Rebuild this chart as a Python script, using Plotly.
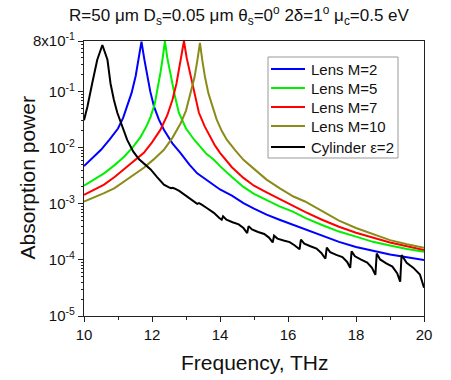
import plotly.graph_objects as go

# ---------------- data ----------------
freq_m2 = [10.0, 10.25, 10.5, 10.75, 11.0, 11.15, 11.27, 11.4, 11.52, 11.6, 11.69, 11.78, 11.86, 11.95,
           12.06, 12.2, 12.35, 12.6, 12.84, 13.1, 13.33, 13.6, 13.82, 14.0, 14.35, 14.69, 15.0, 15.37,
           15.75, 16.16, 16.5, 17.0, 17.5, 18.0, 18.5, 19.0, 19.5, 20.0]
abs_m2 = [0.0047, 0.0066, 0.0092, 0.014, 0.022, 0.034, 0.054, 0.095, 0.19, 0.35, 0.78, 0.36, 0.19, 0.10,
          0.054, 0.032, 0.021, 0.012, 0.0080, 0.0050, 0.0035, 0.0027, 0.0022, 0.0018, 0.0014, 0.00103,
          0.00082, 0.00064, 0.00052, 0.00042, 0.00035, 0.000265, 0.00021, 0.00017, 0.000145, 0.000125,
          0.000112, 0.000100]

freq_m5 = [10.0, 10.3, 10.59, 10.9, 11.18, 11.45, 11.67, 11.85, 11.96, 12.08, 12.16, 12.25, 12.32, 12.38,
           12.45, 12.57, 12.68, 12.79, 13.0, 13.24, 13.41, 13.6, 13.82, 14.0, 14.35, 14.69, 15.0, 15.37,
           15.75, 16.16, 16.5, 17.0, 17.5, 18.0, 18.5, 19.0, 19.5, 20.0]
abs_m5 = [0.0021, 0.0027, 0.0035, 0.0049, 0.0069, 0.0105, 0.0158, 0.025, 0.036, 0.060, 0.107, 0.22, 0.42,
          0.80, 0.40, 0.16, 0.080, 0.042, 0.022, 0.0139, 0.0105, 0.0078, 0.0061, 0.0047, 0.0030, 0.0020,
          0.00150, 0.00115, 0.00090, 0.00072, 0.00056, 0.00042, 0.00032, 0.00026, 0.00021, 0.00018,
          0.000156, 0.00014]

freq_m7 = [10.0, 10.3, 10.59, 10.9, 11.18, 11.47, 11.76, 12.0, 12.25, 12.45, 12.6, 12.72, 12.79, 12.87,
           12.94, 13.02, 13.14, 13.25, 13.38, 13.55, 13.71, 13.85, 14.0, 14.35, 14.69, 15.0, 15.37, 15.75,
           16.16, 16.5, 17.0, 17.5, 18.0, 18.5, 19.0, 19.5, 20.0]
abs_m7 = [0.00145, 0.0018, 0.0022, 0.0030, 0.0041, 0.0057, 0.0081, 0.0125, 0.021, 0.038, 0.071, 0.14, 0.24,
          0.45, 0.80, 0.40, 0.19, 0.085, 0.042, 0.024, 0.0158, 0.011, 0.0081, 0.0045, 0.0029, 0.0021,
          0.0016, 0.00122, 0.00090, 0.00072, 0.00052, 0.00039, 0.000305, 0.00025, 0.000205, 0.000175,
          0.00015]

freq_m10 = [10.0, 10.3, 10.59, 10.9, 11.18, 11.47, 11.76, 12.05, 12.35, 12.6, 12.84, 13.0, 13.14, 13.25,
            13.34, 13.41, 13.48, 13.56, 13.66, 13.78, 13.9, 14.05, 14.2, 14.45, 14.69, 15.0, 15.37, 15.75,
            16.16, 16.5, 17.0, 17.5, 18.0, 18.5, 19.0, 19.5, 20.0]
abs_m10 = [0.0011, 0.0013, 0.00155, 0.0019, 0.0025, 0.0033, 0.0044, 0.0062, 0.0092, 0.015, 0.027, 0.046,
           0.093, 0.18, 0.38, 0.74, 0.36, 0.18, 0.093, 0.052, 0.032, 0.020, 0.0139, 0.0090, 0.0061,
           0.0042, 0.0027, 0.0019, 0.00135, 0.0011, 0.00074, 0.00050, 0.00037, 0.00029, 0.000225,
           0.00019, 0.000165]

freq_cyl = [10.0, 10.1, 10.24, 10.39, 10.54, 10.69, 10.78, 10.88, 10.98, 11.1, 11.27, 11.45, 11.62, 11.8,
            11.96, 12.15, 12.35, 12.5, 12.56, 12.6, 12.66, 12.8, 12.95, 13.14, 13.28, 13.33, 13.38, 13.45,
            13.6, 13.82, 13.98, 14.05,
            14.09, 14.19, 14.37, 14.55, 14.69, 14.80,
            14.84, 14.94, 15.12, 15.30, 15.44, 15.55,
            15.59, 15.69, 15.87, 16.05, 16.19, 16.34,
            16.38, 16.48, 16.66, 16.84, 16.98, 17.10,
            17.14, 17.24, 17.42, 17.60, 17.74, 17.83,
            17.87, 17.97, 18.15, 18.33, 18.47, 18.57,
            18.61, 18.71, 18.89, 19.07, 19.21, 19.30,
            19.34, 19.49, 19.69, 19.88, 20.0]
abs_cyl = [0.031, 0.054, 0.14, 0.37, 0.68, 0.37, 0.14, 0.071, 0.042, 0.026, 0.0138, 0.0085, 0.0062, 0.0050,
           0.0041, 0.0030, 0.0022, 0.00197, 0.0019, 0.00193, 0.00188, 0.0017, 0.00145, 0.00118, 0.00102,
           0.00100, 0.00103, 0.00098, 0.00085, 0.00069, 0.00056, 0.00052,
           0.00060, 0.00052, 0.00047, 0.00043, 0.00037, 0.00030,
           0.00040, 0.00035, 0.000315, 0.00029, 0.00025, 0.000205,
           0.00027, 0.00024, 0.000222, 0.000208, 0.000183, 0.000155,
           0.00023, 0.000195, 0.000175, 0.000159, 0.000133, 0.000105,
           0.000165, 0.000138, 0.000123, 0.000112, 0.000092, 0.000072,
           0.000142, 0.000116, 0.000101, 0.000090, 0.000072, 0.000054,
           0.000130, 0.000102, 0.000087, 0.000076, 0.000058, 0.000041,
           0.000122, 0.000089, 0.000072, 0.000055, 0.000032]

series_names = ["Lens M=2", "Lens M=5", "Lens M=7", "Lens M=10", "Cylinder \u03b5=2"]
series_x = [freq_m2, freq_m5, freq_m7, freq_m10, freq_cyl]
series_y = [abs_m2, abs_m5, abs_m7, abs_m10, abs_cyl]
series_colors = ["#0000FF", "#00F000", "#FF0000", "#8B8B1A", "#000000"]

y_tickvals = [0.8, 1e-1, 1e-2, 1e-3, 1e-4, 1e-5]
y_ticktext = ["8x10<sup>-1</sup>", "10<sup>-1</sup>", "10<sup>-2</sup>", "10<sup>-3</sup>",
              "10<sup>-4</sup>", "10<sup>-5</sup>"]
x_tickvals = [10, 12, 14, 16, 18, 20]
y_minor = [m * 10.0 ** e for e in range(-5, 0) for m in range(2, 10) if m * 10.0 ** e <= 0.8]

title_text = ("R=50 \u03bcm D<sub>s</sub>=0.05 \u03bcm \u03b8<sub>s</sub>=0<sup>o</sup> "
              "2\u03b4=1<sup>o</sup> \u03bc<sub>c</sub>=0.5 eV")

FONT = "Arial, Liberation Sans, sans-serif"
TXT = "#111111"

# layout geometry (pixels)
W, H = 451, 380
ML, MR, MT, MB = 84, 27, 41, 64
PW, PH = W - ML - MR, H - MT - MB


def px_x(px):
    return (px - ML) / PW


def px_y(py):
    return (H - MB - py) / PH


fig = go.Figure()
for name, xs, ys, col in zip(series_names, series_x, series_y, series_colors):
    fig.add_trace(go.Scatter(x=xs, y=ys, mode="lines", name=name,
                             line=dict(color=col, width=2)))

fig.update_layout(
    width=W, height=H,
    margin=dict(l=ML, r=MR, t=MT, b=MB, autoexpand=False),
    paper_bgcolor="white", plot_bgcolor="white",
    font=dict(family=FONT, color=TXT),
    showlegend=False,
    title=dict(text=title_text, x=239 / W, xanchor="center", y=1 - 15 / H, yanchor="middle",
               font=dict(size=17, family=FONT, color=TXT)),
)

fig.update_xaxes(range=[10, 20], tickvals=x_tickvals, ticks="outside", ticklen=5, tickwidth=1,
                 tickcolor="#222", showline=True, linecolor="#222", linewidth=1.3, mirror=True,
                 showgrid=False, zeroline=False, tickfont=dict(size=15, family=FONT, color=TXT),
                 minor=dict(tickvals=[11, 13, 15, 17, 19], ticks="outside", ticklen=3, tickcolor="#222"))
fig.update_yaxes(type="log", range=[-5, -0.0969], tickvals=y_tickvals, ticktext=y_ticktext,
                 ticks="outside", ticklen=5, tickwidth=1, tickcolor="#222",
                 showline=True, linecolor="#222", linewidth=1.3, mirror=True,
                 showgrid=False, zeroline=False, tickfont=dict(size=15, family=FONT, color=TXT),
                 minor=dict(tickvals=y_minor, ticks="outside", ticklen=2, tickcolor="#222"))

fig.add_annotation(text="Frequency, THz", xref="paper", yref="paper", x=0.5, y=0,
                   xanchor="center", yanchor="middle", yshift=-46, showarrow=False,
                   font=dict(size=21, family=FONT, color=TXT))
fig.add_annotation(text="Absorption power", xref="paper", yref="paper", x=0, y=0.5,
                   xanchor="center", yanchor="middle", xshift=-57, textangle=-90, showarrow=False,
                   font=dict(size=21, family=FONT, color=TXT))

# legend box drawn inside the plot (upper right)
fig.add_shape(type="rect", xref="paper", yref="paper",
              x0=px_x(268), x1=px_x(398), y0=px_y(158), y1=px_y(57),
              line=dict(color="#999999", width=1), fillcolor="white", layer="above")
legend_rows = [69, 88, 107, 126, 147]
for name, col, py in zip(series_names, series_colors, legend_rows):
    fig.add_shape(type="line", xref="paper", yref="paper",
                  x0=px_x(271), x1=px_x(305), y0=px_y(py), y1=px_y(py),
                  line=dict(color=col, width=2), layer="above")
    fig.add_annotation(text=name, xref="paper", yref="paper", x=px_x(309), y=px_y(py),
                       xanchor="left", yanchor="middle", showarrow=False,
                       font=dict(size=15, family=FONT, color=TXT))

fig.write_html("out.html", config={"displayModeBar": False},
               post_script="document.body.style.margin='0';document.body.style.overflow='hidden';")
